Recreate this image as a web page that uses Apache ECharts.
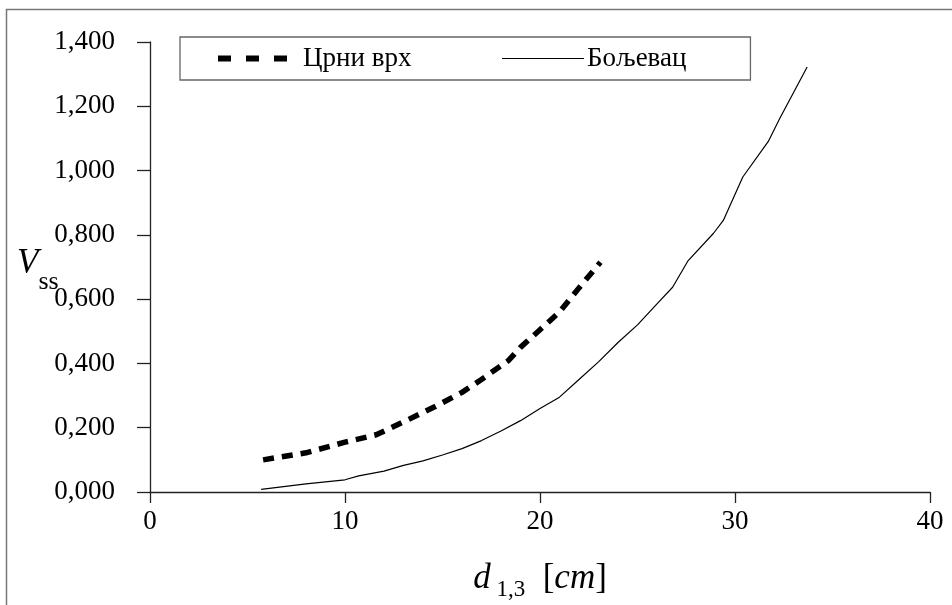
<!DOCTYPE html>
<html>
<head>
<meta charset="utf-8">
<script src="https://cdn.jsdelivr.net/npm/echarts@6/dist/echarts.min.js"></script>
<style>html,body{margin:0;padding:0;background:#fff;}#c{width:952px;height:605px;}</style>
</head>
<body>
<div id="c"></div>
<script>
// Data
const seriesNames = ['Црни врх', 'Бољевац'];
const crniVrhX = [5.8, 8.0, 10.0, 11.6, 13.0, 14.6, 16.0, 17.0, 18.4, 19.0, 20.0, 21.0, 22.0, 23.1];
const crniVrhY = [0.100, 0.122, 0.155, 0.178, 0.218, 0.265, 0.310, 0.350, 0.410, 0.450, 0.505, 0.560, 0.635, 0.715];
const boljevacX = [5.7, 8.0, 10.0, 10.7, 12.0, 13.0, 14.0, 15.0, 16.0, 17.0, 18.0, 19.0, 20.0, 21.0, 22.0, 23.0, 24.0, 25.0, 26.0, 26.8, 27.6, 28.9, 29.4, 30.4, 31.7, 32.3, 33.7];
const boljevacY = [0.008, 0.025, 0.038, 0.050, 0.065, 0.083, 0.097, 0.115, 0.135, 0.160, 0.190, 0.222, 0.260, 0.295, 0.350, 0.405, 0.465, 0.520, 0.585, 0.637, 0.720, 0.805, 0.845, 0.980, 1.090, 1.163, 1.322];
const xTicks = [0, 10, 20, 30, 40];
const yTicks = [0, 0.2, 0.4, 0.6, 0.8, 1.0, 1.2, 1.4];

const zip = (xs, ys) => xs.map((x, i) => [x, ys[i]]);
const FONT = '"Liberation Serif", "DejaVu Serif", serif';

const chart = echarts.init(document.getElementById('c'));
chart.setOption({
  animation: false,
  backgroundColor: '#fff',
  textStyle: { fontFamily: FONT },
  grid: { left: 150, right: 22, top: 42, bottom: 113, containLabel: false },
  legend: {
    left: 180, top: 37,
    orient: 'horizontal',
    padding: [8, 64, 8, 35],
    itemGap: 90,
    itemWidth: 82, itemHeight: 10,
    borderColor: '#666', borderWidth: 1.3,
    itemStyle: { opacity: 0 },
    textStyle: { fontFamily: FONT, fontSize: 27, color: '#000', padding: [2, 0, 0, -2] },
    data: [
      { name: seriesNames[0], lineStyle: { width: 6, type: [13, 15], cap: 'butt' } },
      { name: seriesNames[1], lineStyle: { width: 1.2 } }
    ]
  },
  xAxis: {
    type: 'value', min: xTicks[0], max: xTicks[xTicks.length - 1], interval: 10,
    splitLine: { show: false },
    axisLine: { show: true, onZero: false, lineStyle: { color: '#222', width: 1.3 } },
    axisTick: { show: true, inside: false, length: 11, lineStyle: { color: '#222', width: 1.3 } },
    axisLabel: { color: '#000', fontFamily: FONT, fontSize: 27, margin: 16 }
  },
  yAxis: {
    type: 'value', min: yTicks[0], max: yTicks[yTicks.length - 1], interval: 0.2,
    splitLine: { show: false },
    axisLine: { show: true, onZero: false, lineStyle: { color: '#222', width: 1.3 } },
    axisTick: { show: true, inside: false, length: 13, lineStyle: { color: '#222', width: 1.3 } },
    axisLabel: { color: '#000', fontFamily: FONT, fontSize: 27, margin: 35,
      formatter: v => v.toFixed(3).replace('.', ',') }
  },
  series: [
    {
      name: seriesNames[0], type: 'line', data: zip(crniVrhX, crniVrhY),
      symbol: 'none', smooth: false,
      lineStyle: { color: '#000', width: 5.5, type: [11, 8], cap: 'butt' },
      itemStyle: { color: '#000' }
    },
    {
      name: seriesNames[1], type: 'line', data: zip(boljevacX, boljevacY),
      symbol: 'none', smooth: false,
      lineStyle: { color: '#000', width: 1.2 },
      itemStyle: { color: '#000' }
    }
  ],
  graphic: [
    { type: 'rect', left: 4, top: 7, shape: { width: 960, height: 620 }, silent: true, z: -10,
      style: { fill: 'none', stroke: '#777', lineWidth: 1.5 } },
    { type: 'text', x: 17, y: 295, silent: true,
      style: { text: '{v|V}{s|ss}', verticalAlign: 'bottom', align: 'left', rich: {
        v: { fontFamily: FONT, fontStyle: 'italic', fontSize: 35, fill: '#000', verticalAlign: 'bottom', padding: [0, 0, 14, 0] },
        s: { fontFamily: FONT, fontSize: 26, fill: '#000', verticalAlign: 'bottom' } } } },
    { type: 'text', x: 540, y: 601, silent: true,
      style: { text: '{d|d}{s| 1,3}{b|  [}{c|cm}{b|]}', verticalAlign: 'bottom', align: 'center', rich: {
        d: { fontFamily: FONT, fontStyle: 'italic', fontSize: 35, fill: '#000', verticalAlign: 'bottom', padding: [0, 0, 5, 0] },
        s: { fontFamily: FONT, fontSize: 23, fill: '#000', verticalAlign: 'bottom' },
        b: { fontFamily: FONT, fontSize: 35, fill: '#000', verticalAlign: 'bottom', padding: [0, 0, 5, 0] },
        c: { fontFamily: FONT, fontStyle: 'italic', fontSize: 35, fill: '#000', verticalAlign: 'bottom', padding: [0, 0, 5, 0] } } } }
  ]
});
</script>
</body>
</html>
